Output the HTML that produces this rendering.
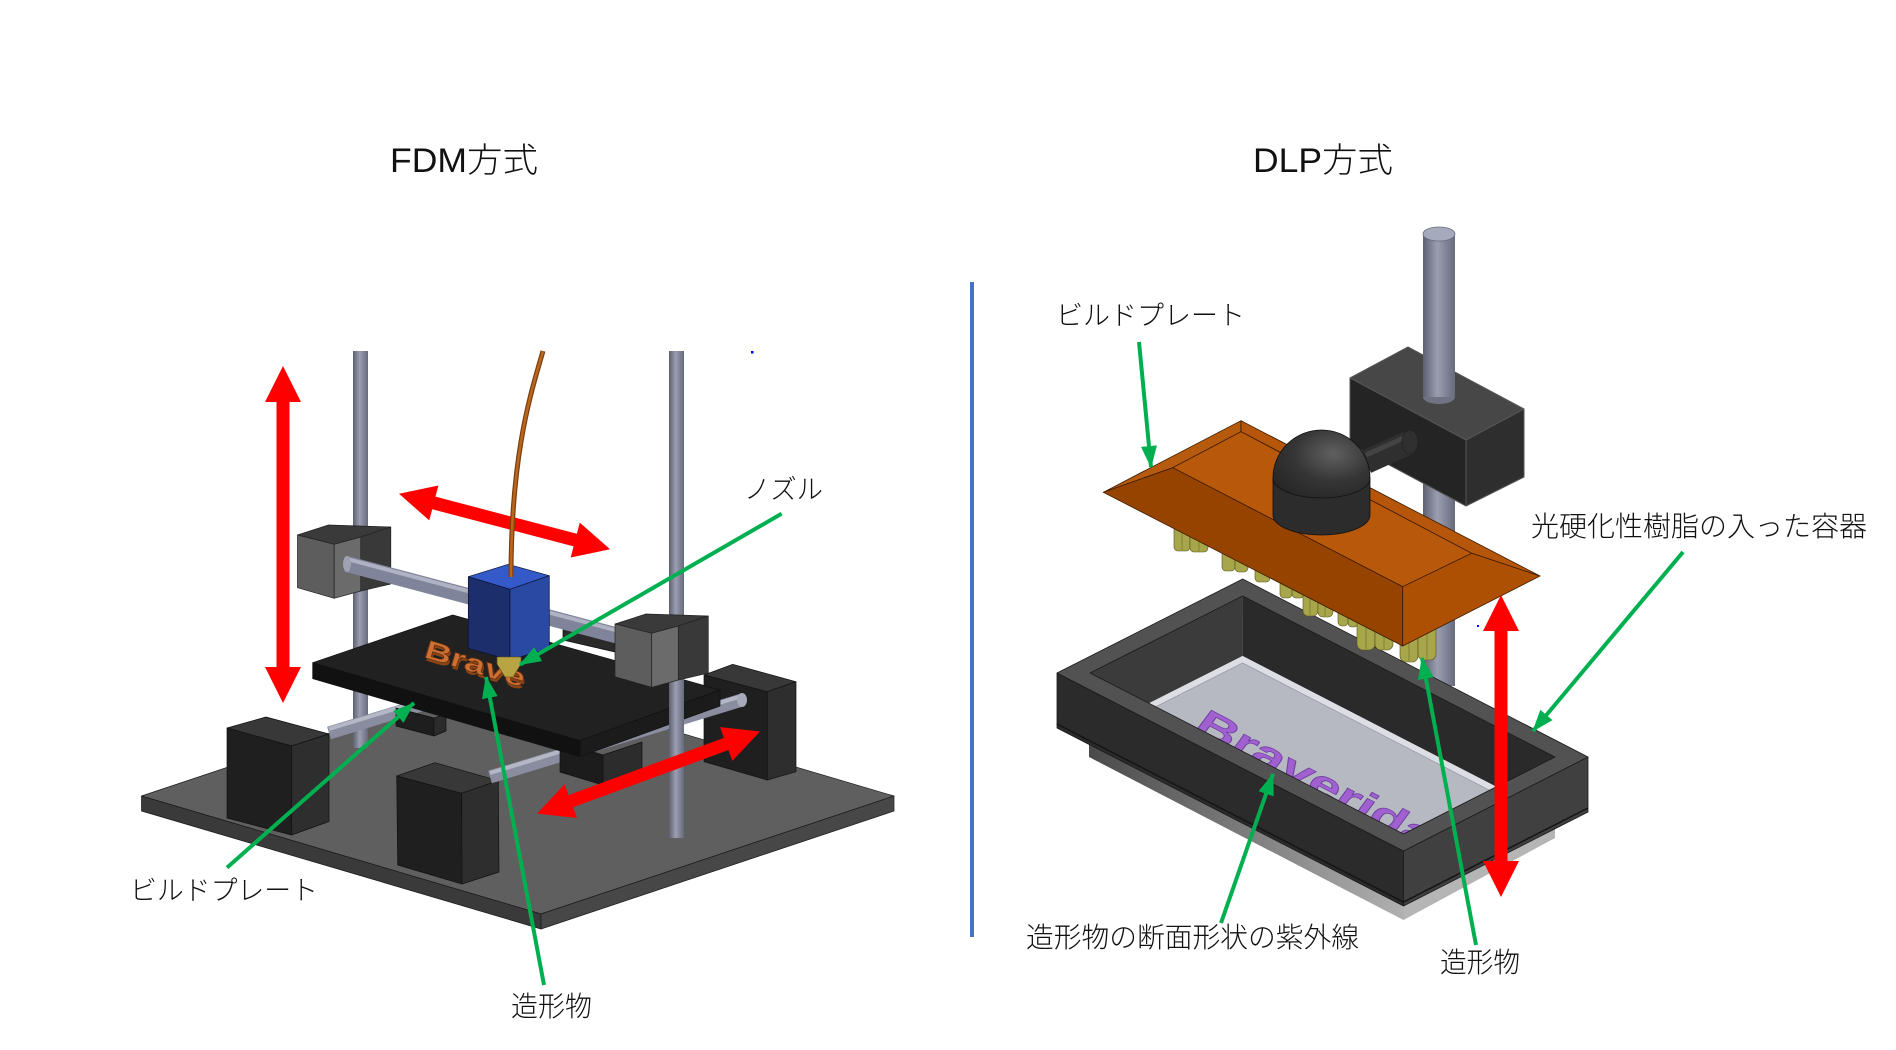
<!DOCTYPE html>
<html><head><meta charset="utf-8"><style>
html,body{margin:0;padding:0;background:#fff;}
body{width:1896px;height:1050px;overflow:hidden;}
svg{display:block;}
text{font-family:"Liberation Sans","Noto Sans CJK JP",sans-serif;fill:#111;font-weight:300;}
</style></head><body>
<svg width="1896" height="1050" viewBox="0 0 1896 1050" xmlns="http://www.w3.org/2000/svg">
<defs>
<linearGradient id="rv" x1="0" x2="1" y1="0" y2="0"><stop offset="0" stop-color="#5c6070"/><stop offset="0.45" stop-color="#9a9eb0"/><stop offset="1" stop-color="#666a7b"/></linearGradient>
<radialGradient id="dome" cx="0.62" cy="0.35" r="0.75"><stop offset="0" stop-color="#606060"/><stop offset="0.55" stop-color="#353535"/><stop offset="1" stop-color="#262626"/></radialGradient>
<linearGradient id="baseL" x1="0" x2="1" y1="0" y2="0"><stop offset="0" stop-color="#4a4a4a"/><stop offset="1" stop-color="#b0b0b0"/></linearGradient>
<marker id="ga" markerUnits="userSpaceOnUse" markerWidth="22" markerHeight="16" refX="21" refY="8" orient="auto" viewBox="0 0 22 16"><path d="M0,0 L22,8 L0,16 z" fill="#00b050"/></marker>
</defs>

<!-- Titles -->
<text x="390" y="172" font-size="34" textLength="148" lengthAdjust="spacingAndGlyphs">FDM方式</text>
<text x="1253" y="172" font-size="34" textLength="140" lengthAdjust="spacingAndGlyphs">DLP方式</text>

<!-- Divider -->
<line x1="972" y1="282" x2="972" y2="937" stroke="#4472c4" stroke-width="4"/>

<!-- ================= FDM ================= -->
<g stroke="#1a1a1a" stroke-width="0.7" stroke-linejoin="round">
<polygon points="141.5,796 494.5,678 894,796 541,914" fill="#5f5f5f"/>
<polygon points="141.5,796 541,914 541,929 141.5,811" fill="#3a3a3a"/>
<polygon points="541,914 894,796 894,811 541,929" fill="#474747"/>
</g>
<rect x="353" y="351" width="15" height="397" fill="url(#rv)"/>
<g stroke="#111" stroke-width="0.7" stroke-linejoin="round">
<polygon points="227,728 266,717 329,734 291.5,746" fill="#383838"/>
<polygon points="227,728 291.5,746 291.5,835 227,818" fill="#1f1f1f"/>
<polygon points="291.5,746 329,734 329,821.5 291.5,835" fill="#2e2e2e"/>
</g>
<line x1="329" y1="733" x2="470" y2="690" stroke="#898d9f" stroke-width="13"/>
<line x1="329" y1="729" x2="470" y2="686" stroke="#b3b7c6" stroke-width="4"/>
<g stroke="#111" stroke-width="0.7" stroke-linejoin="round">
<polygon points="396,708 434,718 434,736 396,726" fill="#1e1e1e"/>
<polygon points="434,718 446,714 446,731 434,736" fill="#2b2b2b"/>
<polygon points="704,675 732.7,664.3 796,681.7 767.3,691.7" fill="#383838"/>
<polygon points="704,675 767.3,691.7 767.3,780 704,761.7" fill="#1f1f1f"/>
<polygon points="767.3,691.7 796,681.7 796,771.7 767.3,780" fill="#2e2e2e"/>
<polygon points="396.7,776 435,762.7 498.3,780.7 461.7,793.3" fill="#383838"/>
<polygon points="396.7,776 461.7,793.3 462,884 397.7,865" fill="#1f1f1f"/>
<polygon points="461.7,793.3 498.3,780.7 499,872 462,884" fill="#2e2e2e"/>
</g>
<line x1="490" y1="777" x2="742" y2="700" stroke="#898d9f" stroke-width="13"/>
<line x1="490" y1="773" x2="742" y2="696" stroke="#b3b7c6" stroke-width="4"/>
<ellipse cx="742" cy="700" rx="5" ry="7" fill="#a6aaba"/>
<g stroke="#111" stroke-width="0.7" stroke-linejoin="round">
<polygon points="560,742 603,755 603,785 560,772" fill="#1c1c1c"/>
<polygon points="603,755 642,742 642,775 603,785" fill="#2c2c2c"/>
<polygon points="563,616 615,630 615,652 563,640" fill="#2a2a2a"/>
<polygon points="312.7,662.7 452.7,615 720,690 580,740.7" fill="#212121"/>
<polygon points="312.7,662.7 580,740.7 580,756.7 312.7,678.7" fill="#111"/>
<polygon points="580,740.7 720,690 720,706 580,756.7" fill="#1b1b1b"/>
</g>
<g transform="translate(-317.5,-89)" stroke="#222" stroke-width="0.7" stroke-linejoin="round">
<polygon points="615,624 646,614 708.3,616 678.3,626 651.7,633.3" fill="#3a3a3a"/>
<polygon points="615,624 651.7,633.3 651.7,687.3 615,676.7" fill="#5d5d5d"/>
<polygon points="651.7,633.3 678.3,626 678.3,680 651.7,687.3" fill="#6b6b6b"/>
<polygon points="678.3,626 708.3,616 708.3,673 678.3,680" fill="#393939"/>
</g>
<line x1="347" y1="564" x2="630" y2="639" stroke="#80849a" stroke-width="16"/>
<line x1="347" y1="559" x2="630" y2="634" stroke="#aeb2c2" stroke-width="4"/>
<ellipse cx="347" cy="564" rx="4" ry="8" fill="#9ea2b2"/>
<g stroke="#0d1230" stroke-width="0.7" stroke-linejoin="round">
<polygon points="468.3,576.7 508.3,564.3 549.3,575.7 510,589.3" fill="#3459c8"/>
<polygon points="468.3,576.7 510,589.3 510,660 468.3,648.3" fill="#1d2e6c"/>
<polygon points="510,589.3 549.3,575.7 549.3,648.3 510,660" fill="#2a49a2"/>
</g>
<text transform="translate(424,660) rotate(17)" font-size="26" textLength="104" lengthAdjust="spacingAndGlyphs" style="fill:#8a4418;font-weight:700;font-family:'Liberation Sans',sans-serif">Brave</text>
<text transform="translate(423,657) rotate(17)" font-size="26" textLength="104" lengthAdjust="spacingAndGlyphs" style="fill:#cf7033;font-weight:700;font-family:'Liberation Sans',sans-serif" stroke="#6b3210" stroke-width="0.7">Brave</text>
<polygon points="497,657 521,657 521,664 513,677 505,677 497,664" fill="#b9a443" stroke="#5a4c10" stroke-width="0.6"/>
<rect x="669" y="351" width="15" height="487" fill="url(#rv)"/>
<g stroke="#222" stroke-width="0.7" stroke-linejoin="round">
<polygon points="615,624 646,614 708.3,616 678.3,626 651.7,633.3" fill="#3a3a3a"/>
<polygon points="615,624 651.7,633.3 651.7,687.3 615,676.7" fill="#5d5d5d"/>
<polygon points="651.7,633.3 678.3,626 678.3,680 651.7,687.3" fill="#6b6b6b"/>
<polygon points="678.3,626 708.3,616 708.3,673 678.3,680" fill="#393939"/>
</g>
<g fill="#ff0000">
<polygon transform="translate(283,366) rotate(90)" points="0,0 36,-18 36,-6.5 301,-6.5 301,-18 337,0 301,18 301,6.5 36,6.5 36,18"/>
<polygon transform="translate(399,493.8) rotate(14.71)" points="0,0 36,-18 36,-6.5 182.2,-6.5 182.2,-18 218.2,0 182.2,18 182.2,6.5 36,6.5 36,18"/>
<polygon transform="translate(537,813.6) rotate(-20.21)" points="0,0 36,-18 36,-6.5 201.6,-6.5 201.6,-18 237.6,0 201.6,18 201.6,6.5 36,6.5 36,18"/>
</g>
<path d="M543,351 C532,390 511,450 511,577" stroke="#7e3f0e" stroke-width="5" fill="none"/>
<path d="M543,351 C532,390 511,450 511,577" stroke="#b8671f" stroke-width="2.5" fill="none"/>
<rect x="751" y="351" width="2.5" height="2.5" fill="#0000ff"/>
<g stroke="#00b050" stroke-width="4" fill="none" marker-end="url(#ga)">
<line x1="781.6" y1="513.7" x2="520" y2="664.6"/>
<line x1="227" y1="867.6" x2="414" y2="703"/>
<line x1="544" y1="985" x2="486" y2="677"/>
</g>
<text x="744" y="499" font-size="27" textLength="79" lengthAdjust="spacingAndGlyphs">ノズル</text>
<text x="130" y="900" font-size="27" textLength="188" lengthAdjust="spacingAndGlyphs">ビルドプレート</text>
<text x="511" y="1016" font-size="28" textLength="81" lengthAdjust="spacingAndGlyphs">造形物</text>

<!-- ================= DLP ================= -->
<rect x="1423" y="234" width="32" height="452" fill="url(#rv)"/>
<g stroke="#555" stroke-width="1" stroke-linejoin="round">
<polygon points="1350,378 1408,347 1524,409 1466,440" fill="#474747"/>
<polygon points="1350,378 1466,440 1466,506 1350,444" fill="#242424"/>
<polygon points="1466,440 1524,409 1524,477 1466,506" fill="#2e2e2e"/>
</g>
<rect x="1423" y="234" width="32" height="163" fill="url(#rv)"/>
<path d="M1423,397 A16,7 0 0 0 1455,397 Z" fill="#6f7384"/>
<ellipse cx="1439" cy="234" rx="16" ry="7" fill="#a6aabd" stroke="#6a6e80" stroke-width="0.8"/>
<line x1="1366" y1="462" x2="1410" y2="442" stroke="#2f2f2f" stroke-width="24"/>
<line x1="1366" y1="455" x2="1406" y2="437" stroke="#444" stroke-width="5"/>
<ellipse cx="1410" cy="442" rx="8" ry="12" fill="#303030" stroke="#1e1e1e" stroke-width="0.6"/>

<!-- container -->
<polygon points="1090,673 1242.6,596 1242.6,656 1090,733" fill="#3b3b3b"/>
<polygon points="1242.6,596 1555,757 1555,817 1242.6,656" fill="#2a2a2a"/>
<polygon points="1090,733 1242.6,656 1555,817 1403.5,894" fill="#dddde5"/>
<polygon points="1090,740 1242.6,663 1555,824 1403.5,901" fill="#b6b8c2" stroke="#9a9ca6" stroke-width="0.8"/>
<text transform="matrix(0.887 0.462 -0.45 0.6 1192 730)" font-size="52" textLength="262" lengthAdjust="spacingAndGlyphs" style="fill:#a060d0;font-weight:700;font-family:'Liberation Sans',sans-serif" stroke="#7040a0" stroke-width="1">Braverida</text>
<polygon points="1089,744 1403.5,906 1403.5,920 1089,757" fill="url(#baseL)"/>
<polygon points="1403.5,906 1555,828 1555,838 1403.5,920" fill="#b5b5b5"/>
<g stroke="#1a1a1a" stroke-width="0.8" stroke-linejoin="round">
<polygon points="1057,673 1403.5,851 1403.5,906 1057,728" fill="#2b2b2b"/>
<polygon points="1403.5,851 1588,757 1588,812 1403.5,906" fill="#404040"/>
<path d="M1057,673 L1242.7,579 L1588,757 L1403.5,851 Z M1090,673 L1242.6,596 L1555,757 L1403.5,834 Z" fill-rule="evenodd" fill="#525252"/>
</g>
<polyline points="1057,724 1403.5,902 1588,808" fill="none" stroke="#151515" stroke-width="1.5"/>

<g fill="#a8a64a" stroke="#55531a" stroke-width="0.6">
<rect x="1174" y="526" width="16" height="25" rx="4"/><rect x="1190" y="532" width="18" height="20" rx="4"/>
<rect x="1222" y="550" width="13" height="21" rx="4"/><rect x="1235" y="556" width="13" height="16" rx="4"/>
<rect x="1255" y="566" width="15" height="16" rx="4"/>
<rect x="1280" y="578" width="12" height="20" rx="4"/><rect x="1292" y="584" width="12" height="14" rx="4"/>
<rect x="1303" y="588" width="15" height="28" rx="5"/><rect x="1318" y="596" width="15" height="21" rx="5"/>
<rect x="1338" y="604" width="10" height="22" rx="4"/><rect x="1348" y="610" width="10" height="17" rx="4"/>
<rect x="1357" y="612" width="18" height="38" rx="6"/><rect x="1375" y="620" width="18" height="30" rx="6"/>
<rect x="1400" y="628" width="18" height="34" rx="6"/><rect x="1418" y="622" width="18" height="38" rx="6"/>
</g>
<g stroke="#6d6b25" stroke-width="0.6">
<line x1="1182" y1="530" x2="1182" y2="550"/><line x1="1199" y1="536" x2="1199" y2="551"/>
<line x1="1310" y1="592" x2="1310" y2="615"/><line x1="1325" y1="600" x2="1325" y2="616"/>
<line x1="1366" y1="616" x2="1366" y2="649"/><line x1="1384" y1="624" x2="1384" y2="649"/>
<line x1="1409" y1="632" x2="1409" y2="661"/><line x1="1427" y1="626" x2="1427" y2="659"/>
</g>

<g stroke="#3a1a00" stroke-width="0.8" stroke-linejoin="round">
<polygon points="1103.3,492.3 1241,420.7 1241,431.7 1172.7,467.7" fill="#b65a0d"/>
<polygon points="1241,420.7 1540,576 1471.7,553.3 1241,431.7" fill="#b5560a"/>
<polygon points="1172.7,467.7 1241,431.7 1471.7,553.3 1402.7,586.7" fill="#b8580a"/>
<polygon points="1103.3,492.3 1172.7,467.7 1402.7,586.7 1402.7,646" fill="#974300"/>
<polygon points="1402.7,586.7 1471.7,553.3 1540,576 1402.7,646" fill="#ad5003"/>
</g>
<path d="M1273,478 L1273,515 A48.5,20 0 0 0 1370,515 L1370,478 Z" fill="#2c2c2c" stroke="#111" stroke-width="0.8"/>
<path d="M1273,478 A48.5,48 0 0 1 1370,478 A48.5,20 0 0 1 1273,478 Z" fill="url(#dome)" stroke="#111" stroke-width="0.8"/>

<polygon fill="#ff0000" transform="translate(1501,595) rotate(90)" points="0,0 36,-18 36,-6.5 266,-6.5 266,-18 302,0 266,18 266,6.5 36,6.5 36,18"/>
<rect x="1477" y="625" width="2" height="2" fill="#0000ff"/>

<g stroke="#00b050" stroke-width="4" fill="none" marker-end="url(#ga)">
<line x1="1139" y1="342" x2="1151" y2="467"/>
<line x1="1683" y1="552" x2="1533" y2="731"/>
<line x1="1476" y1="945" x2="1422" y2="658"/>
<line x1="1221" y1="923" x2="1273" y2="774"/>
</g>

<text x="1056" y="325" font-size="27" textLength="189" lengthAdjust="spacingAndGlyphs">ビルドプレート</text>
<text x="1531" y="536" font-size="28" textLength="336" lengthAdjust="spacingAndGlyphs">光硬化性樹脂の入った容器</text>
<text x="1026" y="947" font-size="28" textLength="333" lengthAdjust="spacingAndGlyphs">造形物の断面形状の紫外線</text>
<text x="1440" y="972" font-size="28" textLength="80" lengthAdjust="spacingAndGlyphs">造形物</text>
</svg>
</body></html>
